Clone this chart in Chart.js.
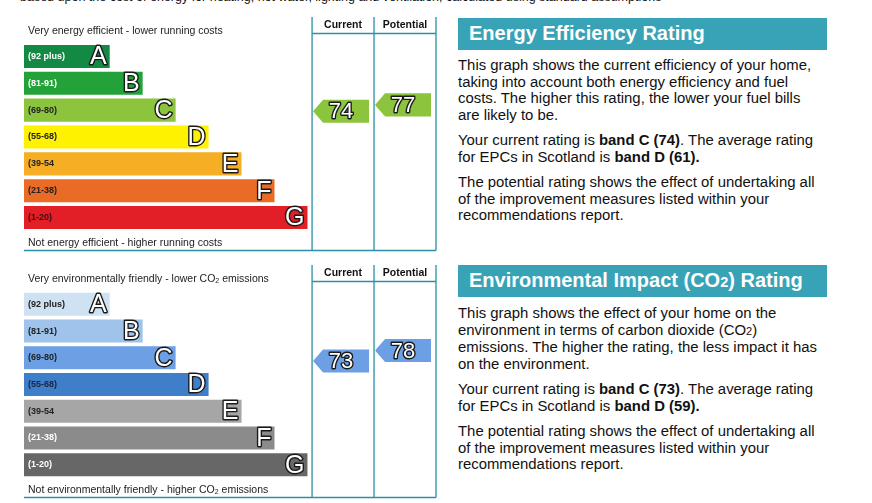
<!DOCTYPE html>
<html>
<head>
<meta charset="utf-8">
<script src="https://cdn.jsdelivr.net/npm/chart.js@4"></script>
<style>
  body { margin:0; width:872px; height:503px; overflow:hidden; background:#fff; position:relative;
         font-family: Arial, "Liberation Sans", sans-serif; color:#111; }
  canvas { position:absolute; left:0; }
  .small { position:absolute; left:28px; font-size:10.5px; line-height:12px; color:#222; white-space:nowrap; }
  .small sub { font-size:7px; vertical-align:baseline; position:relative; top:1px; }
  .toptext { position:absolute; left:20px; top:-10px; font-size:12.5px; line-height:14px; white-space:nowrap; color:#111; }
  .title { position:absolute; left:458px; width:358px; height:32px; padding-left:11px; background:#38a3b7;
           color:#fff; font-weight:bold; font-size:20px; line-height:31px; white-space:nowrap; }
  .panel { position:absolute; left:458px; width:370px; font-size:14.9px; line-height:16.7px; white-space:nowrap; }
  .panel p { margin:0 0 8.3px 0; }
</style>
</head>
<body>

<div class="toptext">based upon the cost of energy for heating, hot water, lighting and ventilation, calculated using standard assumptions</div>

<canvas id="energy" width="445" height="255" style="top:0px"></canvas>
<canvas id="co2" width="445" height="248" style="top:255px"></canvas>

<div class="small" style="top:24px">Very energy efficient - lower running costs</div>
<div class="small" style="top:236px">Not energy efficient - higher running costs</div>
<div class="small" style="top:272px">Very environmentally friendly - lower CO<sub>2</sub> emissions</div>
<div class="small" style="top:483px">Not environmentally friendly - higher CO<sub>2</sub> emissions</div>

<div class="title" style="top:18px">Energy Efficiency Rating</div>
<div class="panel" style="top:57px">
  <p>This graph shows the current efficiency of your home,<br>taking into account both energy efficiency and fuel<br>costs. The higher this rating, the lower your fuel bills<br>are likely to be.</p>
  <p>Your current rating is <b>band C (74)</b>. The average rating<br>for EPCs in Scotland is <b>band D (61).</b></p>
  <p>The potential rating shows the effect of undertaking all<br>of the improvement measures listed within your<br>recommendations report.</p>
</div>

<div class="title" style="top:265px">Environmental Impact (CO<span style="font-size:14.5px">2</span>) Rating</div>
<div class="panel" style="top:305px">
  <p>This graph shows the effect of your home on the<br>environment in terms of carbon dioxide (CO<span style="font-size:11px">2</span>)<br>emissions. The higher the rating, the less impact it has<br>on the environment.</p>
  <p>Your current rating is <b>band C (73)</b>. The average rating<br>for EPCs in Scotland is <b>band D (59).</b></p>
  <p>The potential rating shows the effect of undertaking all<br>of the improvement measures listed within your<br>recommendations report.</p>
</div>

<script>
// Start Data
const bands = ['A', 'B', 'C', 'D', 'E', 'F', 'G'];
const bandRanges = ['(92 plus)', '(81-91)', '(69-80)', '(55-68)', '(39-54', '(21-38)', '(1-20)'];
const bandMin = [92, 81, 69, 55, 39, 21, 1];
const bandMax = [100, 91, 80, 68, 54, 38, 20];
const barLengths = [26, 36, 46, 56, 66, 76, 86];
const columns = ['Current', 'Potential'];
const energyRatings = [74, 77];
const co2Ratings = [73, 78];
// End Data

const energyColors = ['#138a43', '#23a23a', '#8cc43e', '#fff200', '#f6ae24', '#ea6b26', '#e21e26'];
const co2Colors = ['#cfe2f3', '#9fc3ea', '#6d9fe4', '#3f7ec8', '#a6a6a6', '#8b8b8b', '#676767'];
const energyLabelColors = ['#fff', '#fff', '#222', '#222', '#222', '#222', '#3a1010'];
const co2LabelColors = ['#222', '#222', '#222', '#1a2440', '#222', '#fff', '#fff'];
const colBounds = [87.4, 106.2, 125];
const frameColor = '#2b8fa6';

function outlined(ctx, txt, x, y, size, align) {
  ctx.font = size + 'px Arial, "Liberation Sans"';
  ctx.textAlign = align;
  ctx.textBaseline = 'middle';
  ctx.lineJoin = 'round';
  ctx.lineWidth = 2.8;
  ctx.strokeStyle = '#1a1a1a';
  ctx.strokeText(txt, x, y);
  ctx.fillStyle = '#fff';
  ctx.fillText(txt, x, y);
}

const epcPlugin = {
  id: 'epc',
  afterDatasetsDraw(chart, args, opts) {
    const ctx = chart.ctx;
    const area = chart.chartArea;
    const xs = chart.scales.x;
    const meta = chart.getDatasetMeta(0);
    ctx.save();

    // band labels and letters
    meta.data.forEach(function(bar, i) {
      ctx.font = 'bold 9px Arial, "Liberation Sans"';
      ctx.textAlign = 'left';
      ctx.textBaseline = 'middle';
      ctx.fillStyle = opts.labelColors[i];
      ctx.fillText(bandRanges[i], bar.base + 4, bar.y);
      outlined(ctx, bands[i], bar.x - 3, bar.y + 1, 25, 'right');
    });

    // frame
    const cx = colBounds.map(v => xs.getPixelForValue(v));
    const top = area.top - 26, head = area.top - 9.5, bottom = area.bottom + 19.5;
    ctx.strokeStyle = frameColor;
    ctx.lineWidth = 1.3;
    ctx.beginPath();
    cx.forEach(function(px) { ctx.moveTo(px, top); ctx.lineTo(px, bottom); });
    ctx.moveTo(cx[0], head); ctx.lineTo(cx[2], head);
    ctx.moveTo(area.left, bottom); ctx.lineTo(cx[2], bottom);
    ctx.stroke();

    ctx.font = 'bold 10.5px Arial, "Liberation Sans"';
    ctx.fillStyle = '#111';
    ctx.textAlign = 'center';
    ctx.textBaseline = 'middle';
    columns.forEach(function(c, i) { ctx.fillText(c, (cx[i] + cx[i + 1]) / 2, area.top - 18); });

    // arrows
    opts.ratings.forEach(function(v, c) {
      const b = bandMin.findIndex(m => v >= m);
      const bar = meta.data[b];
      const frac = (v - bandMin[b]) / (bandMax[b] - bandMin[b]);
      const h = bar.height;
      const yc = bar.y + (0.5 - frac) * h;
      const x0 = cx[c] + 1, x1 = cx[c + 1] - 5;
      ctx.fillStyle = opts.colors[b];
      ctx.beginPath();
      ctx.moveTo(x0, yc);
      ctx.lineTo(x0 + 10, yc - h / 2);
      ctx.lineTo(x1, yc - h / 2);
      ctx.lineTo(x1, yc + h / 2);
      ctx.lineTo(x0 + 10, yc + h / 2);
      ctx.closePath();
      ctx.fill();
      outlined(ctx, String(v), (x0 + x1) / 2, yc + 1, 22, 'center');
    });
    ctx.restore();
  }
};

function drawRating(id, colors, labelColors, ratings, pad) {
  new Chart(document.getElementById(id), {
    type: 'bar',
    data: {
      labels: bands,
      datasets: [{
        data: barLengths,
        backgroundColor: colors,
        borderWidth: 0,
        categoryPercentage: 1,
        barPercentage: 0.86
      }]
    },
    options: {
      indexAxis: 'y',
      responsive: false,
      animation: false,
      layout: { padding: pad },
      scales: {
        x: { display: false, min: 0, max: 125 },
        y: { display: false }
      },
      plugins: {
        legend: { display: false },
        tooltip: { enabled: false },
        epc: { colors: colors, labelColors: labelColors, ratings: ratings }
      }
    },
    plugins: [epcPlugin]
  });
}

drawRating('energy', energyColors, energyLabelColors, energyRatings, { left: 24, right: 9, top: 43, bottom: 24 });
drawRating('co2', co2Colors, co2LabelColors, co2Ratings, { left: 24, right: 9, top: 36, bottom: 25 });
</script>
</body>
</html>
